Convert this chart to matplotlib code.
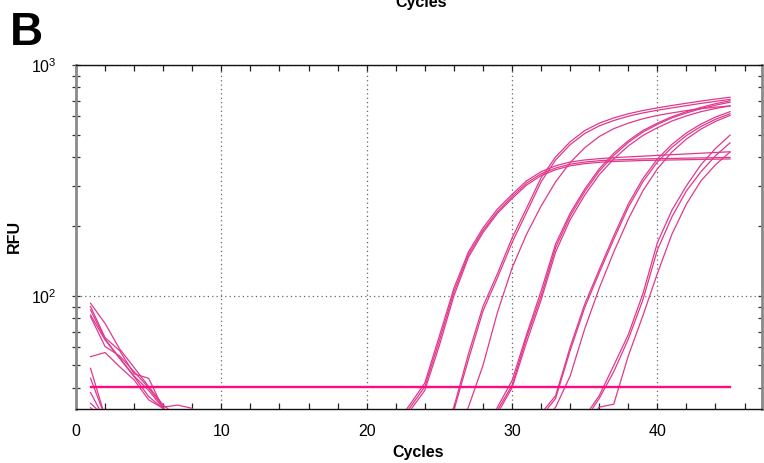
import matplotlib
matplotlib.use('Agg')
import matplotlib.pyplot as plt
from matplotlib.ticker import LogLocator, MultipleLocator, NullFormatter

plt.rcParams['font.family'] = ['Liberation Sans', 'DejaVu Sans']
plt.rcParams['mathtext.fontset'] = 'custom'
plt.rcParams['mathtext.rm'] = 'Liberation Sans'
plt.rcParams['mathtext.it'] = 'Liberation Sans:italic'
plt.rcParams['mathtext.bf'] = 'Liberation Sans:bold'

cycles = list(range(1, 46))
threshold = 40.5
threshold_x = [1, 45]

g1a = [93, 76, 59, 49, 40.5, 33.7, 30, 28,
       26, 26, 26, 26, 26, 26, 26, 26, 26, 26, 26, 26, 26,
       28, 34, 42, 67, 108, 155, 197, 238, 275, 315, 345, 366, 380, 388, 393, 397,
       400, 403, 406, 409, 412, 415, 418, 421]
g1b = [90, 66, 58, 46, 44, 32.5, 29, 27,
       25, 25, 25, 25, 25, 25, 25, 25, 25, 25, 25, 25, 25,
       27, 33, 40.5, 64, 104, 151, 192, 232, 269, 308, 338, 358, 372, 380, 385, 388,
       390, 392, 393, 394, 395, 396, 397, 398]
g1c = [87, 65, 54, 45, 39, 32.6, 29, 27,
       25, 25, 25, 25, 25, 25, 25, 25, 25, 25, 25, 25, 25,
       26, 32, 39, 61, 100, 147, 188, 228, 264, 302, 332, 352, 366, 374, 379, 382,
       384, 386, 387, 388, 389, 390, 391, 392]
g2a = [82.7, 64.5, 53.7, 44.7, 36.7, 32.5, 29, 27,
       25, 25, 25, 25, 25, 25, 25, 25, 25, 25, 25, 25, 25, 25, 25, 25,
       26, 33, 56, 90, 125, 178, 240, 325, 400, 465, 520, 560, 590, 615, 635, 652,
       668, 683, 698, 712, 725]
g2b = [81.4, 60.4, 55, 47, 40, 33, 33.7, 32.6,
       25, 25, 25, 25, 25, 25, 25, 25, 25, 25, 25, 25, 25, 25, 25, 25,
       25, 32, 53, 86, 120, 170, 230, 312, 388, 452, 505, 545, 575, 600, 620, 637,
       652, 667, 682, 696, 710]
g2c = [54.6, 56.9, 49.4, 43.3, 35.5, 32.6, 29, 27,
       25, 25, 25, 25, 25, 25, 25, 25, 25, 25, 25, 25, 25, 25, 25, 25, 25,
       26, 33, 50, 85, 132, 185, 245, 312, 378, 438, 490, 530, 560, 585, 605, 620,
       635, 647, 657, 665]
g3a = [48.6, 30, 27, 26, 25, 25, 25, 25,
       25, 25, 25, 25, 25, 25, 25, 25, 25, 25, 25, 25, 25, 25, 25, 25, 25, 25, 25, 25,
       33, 43, 68, 105, 168, 228, 290, 355, 415, 470, 520, 560, 597, 628, 655, 680, 700]
g3b = [44, 30, 27, 26, 25, 25, 25, 25,
       25, 25, 25, 25, 25, 25, 25, 25, 25, 25, 25, 25, 25, 25, 25, 25, 25, 25, 25, 25,
       32, 41, 66, 100, 162, 222, 283, 347, 406, 462, 512, 553, 590, 620, 647, 670, 690]
g3c = [38.2, 29, 27, 26, 25, 25, 25, 25,
       25, 25, 25, 25, 25, 25, 25, 25, 25, 25, 25, 25, 25, 25, 25, 25, 25, 25, 25, 25,
       31, 40, 63, 96, 155, 214, 273, 335, 392, 446, 495, 535, 572, 602, 628, 648, 665]
g4a = [34.3, 30, 27, 26, 25, 25, 25, 25,
       25, 25, 25, 25, 25, 25, 25, 25, 25, 25, 25, 25, 25, 25, 25, 25, 25, 25, 25, 25,
       25, 25, 25,
       31, 37, 60, 92, 130, 182, 250, 322, 392, 453, 508, 555, 595, 628]
g4b = [32.8, 29, 27, 26, 25, 25, 25, 25,
       25, 25, 25, 25, 25, 25, 25, 25, 25, 25, 25, 25, 25, 25, 25, 25, 25, 25, 25, 25,
       25, 25, 25,
       30, 36, 58, 89, 126, 176, 242, 312, 380, 440, 495, 542, 582, 615]
g4c = [30, 28, 27, 26, 25, 25, 25, 25,
       25, 25, 25, 25, 25, 25, 25, 25, 25, 25, 25, 25, 25, 25, 25, 25, 25, 25, 25, 25,
       25, 25, 25,
       28, 33, 45, 72, 108, 155, 215, 285, 355, 420, 478, 528, 570, 605]
g5a = [30, 27, 26, 25, 25, 25, 25, 25,
       25, 25, 25, 25, 25, 25, 25, 25, 25, 25, 25, 25, 25, 25, 25, 25, 25, 25, 25, 25,
       25, 25, 25, 25, 25, 25,
       30, 37, 50, 68, 102, 170, 235, 300, 370, 435, 497]
g5b = [29, 27, 26, 25, 25, 25, 25, 25,
       25, 25, 25, 25, 25, 25, 25, 25, 25, 25, 25, 25, 25, 25, 25, 25, 25, 25, 25, 25,
       25, 25, 25, 25, 25, 25,
       29, 36, 47, 65, 96, 158, 220, 285, 345, 405, 460]
g5c = [28, 27, 26, 25, 25, 25, 25, 25,
       25, 25, 25, 25, 25, 25, 25, 25, 25, 25, 25, 25, 25, 25, 25, 25, 25, 25, 25, 25,
       25, 25, 25, 25, 25, 25,
       28, 33, 34, 55, 82, 125, 185, 250, 315, 370, 420]

curves = [g1a, g1b, g1c, g2a, g2b, g2c, g3a, g3b, g3c, g4a, g4b, g4c, g5a, g5b, g5c]

W, H = 764, 463
fig = plt.figure(figsize=(W / 100, H / 100), dpi=100)
ax = fig.add_axes([76 / W, 54 / H, 686 / W, 344 / H])

for c in curves:
    ax.plot(cycles, c, color='#e0388d', lw=0.9, zorder=3)
ax.plot(threshold_x, [threshold, threshold], color='#ff0a85', lw=1.7, zorder=4)

ax.set_yscale('log')
ax.set_ylim(32.4, 1000)
ax.set_xlim(0, 47.2)

ax.xaxis.set_major_locator(MultipleLocator(10))
ax.xaxis.set_minor_locator(MultipleLocator(2))
ax.yaxis.set_major_locator(LogLocator(base=10, numticks=10))
ax.yaxis.set_minor_locator(LogLocator(base=10, subs=range(2, 10), numticks=30))
ax.yaxis.set_minor_formatter(NullFormatter())

ax.grid(True, which='major', linestyle=(0, (1, 2.5)), color='#666666', lw=0.9, zorder=1)

ax.tick_params(axis='x', which='both', direction='in', top=True, bottom=True,
               length=4, width=0.9, labelsize=11.5, pad=10.5, color='#222222')
ax.tick_params(axis='y', which='both', direction='inout', left=True, right=True,
               length=6, width=0.9, labelsize=11.5, pad=11, color='#333333')

for s in ['left', 'right']:
    ax.spines[s].set_color('#8a8a8a')
    ax.spines[s].set_linewidth(2.0)
for s in ['top', 'bottom']:
    ax.spines[s].set_color('#111111')
    ax.spines[s].set_linewidth(1.0)

fig.text(10 / W, 1 - 45 / H, 'B', fontsize=33, fontweight='bold', va='baseline', ha='left')
fig.text(14 / W, 1 - 236 / H, 'RFU', fontsize=11.5, fontweight='bold', rotation=90,
         ha='center', va='center')
fig.text(418 / W, 1 - 452 / H, 'Cycles', fontsize=11.5, fontweight='bold',
         ha='center', va='center')
fig.text(421 / W, 1 - 7 / H, 'Cycles', fontsize=11.5, fontweight='bold',
         ha='center', va='baseline')

fig.savefig('out.png', dpi=100)
